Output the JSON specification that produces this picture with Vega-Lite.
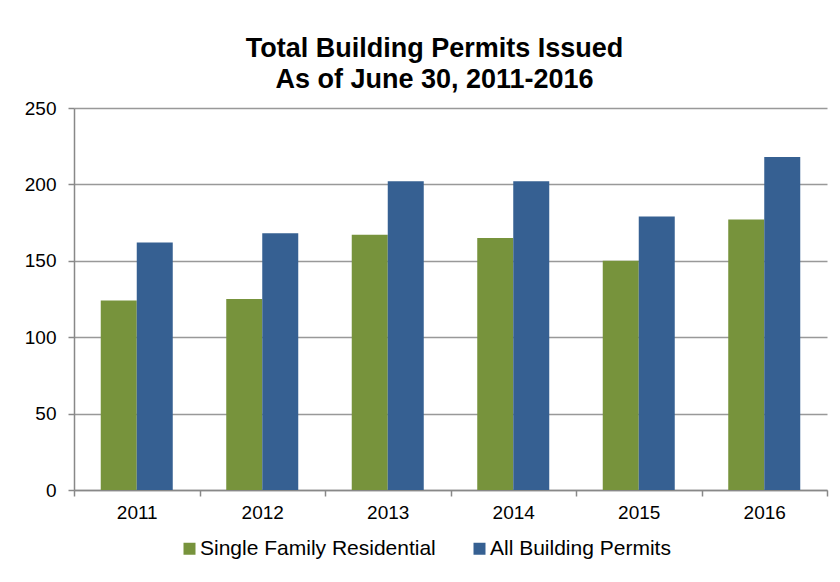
{
  "$schema": "https://vega.github.io/schema/vega-lite/v6.json",
  "width": 753,
  "height": 382,
  "autosize": {"type": "none"},
  "padding": {"left": 74, "top": 108, "right": 13, "bottom": 92},
  "background": "white",
  "config": {
    "font": "Liberation Sans",
    "view": {"stroke": null}
  },
  "title": {
    "text": ["Total Building Permits Issued", "As of June 30, 2011-2016"],
    "font": "Liberation Sans",
    "fontSize": 27,
    "fontWeight": "bold",
    "color": "#000000",
    "lineHeight": 31,
    "anchor": "middle",
    "dx": -16,
    "offset": 5
  },
  "data": {
    "values": [
      {"year": "2011", "series": "Single Family Residential", "value": 124},
      {"year": "2011", "series": "All Building Permits", "value": 162},
      {"year": "2012", "series": "Single Family Residential", "value": 125},
      {"year": "2012", "series": "All Building Permits", "value": 168},
      {"year": "2013", "series": "Single Family Residential", "value": 167},
      {"year": "2013", "series": "All Building Permits", "value": 202},
      {"year": "2014", "series": "Single Family Residential", "value": 165},
      {"year": "2014", "series": "All Building Permits", "value": 202},
      {"year": "2015", "series": "Single Family Residential", "value": 150},
      {"year": "2015", "series": "All Building Permits", "value": 179},
      {"year": "2016", "series": "Single Family Residential", "value": 177},
      {"year": "2016", "series": "All Building Permits", "value": 218}
    ]
  },
  "mark": {"type": "bar"},
  "encoding": {
    "x": {
      "field": "year",
      "type": "nominal",
      "scale": {"paddingInner": 0, "paddingOuter": 0},
      "axis": {
        "title": null,
        "labelAngle": 0,
        "tickBand": "extent",
        "domainColor": "#888888",
        "domainWidth": 1.5,
        "tickColor": "#888888",
        "tickWidth": 1.5,
        "tickSize": 6,
        "labelPadding": 7,
        "labelFontSize": 19,
        "labelColor": "#000000",
        "labelFont": "Liberation Sans",
        "grid": false
      }
    },
    "xOffset": {
      "field": "series",
      "type": "nominal",
      "sort": ["Single Family Residential", "All Building Permits"],
      "scale": {"paddingOuter": 0.743, "paddingInner": 0}
    },
    "y": {
      "field": "value",
      "type": "quantitative",
      "scale": {"domain": [0, 250], "nice": false},
      "axis": {
        "title": null,
        "values": [0, 50, 100, 150, 200, 250],
        "domainColor": "#888888",
        "domainWidth": 1.5,
        "tickColor": "#888888",
        "tickWidth": 1.5,
        "tickSize": 6,
        "labelPadding": 12,
        "labelFontSize": 19,
        "labelColor": "#000000",
        "labelFont": "Liberation Sans",
        "grid": true,
        "gridColor": "#999999",
        "gridWidth": 1.5
      }
    },
    "color": {
      "field": "series",
      "type": "nominal",
      "sort": ["Single Family Residential", "All Building Permits"],
      "scale": {
        "domain": ["Single Family Residential", "All Building Permits"],
        "range": ["#77933C", "#366092"]
      },
      "legend": {
        "title": null,
        "orient": "none",
        "direction": "horizontal",
        "legendX": 105,
        "legendY": 430,
        "padding": 0,
        "symbolType": "square",
        "symbolSize": 144,
        "symbolStrokeWidth": 0,
        "labelFontSize": 21,
        "labelFont": "Liberation Sans",
        "labelColor": "#000000",
        "labelOffset": 0,
        "columnPadding": 33,
        "labelLimit": 400
      }
    }
  }
}
